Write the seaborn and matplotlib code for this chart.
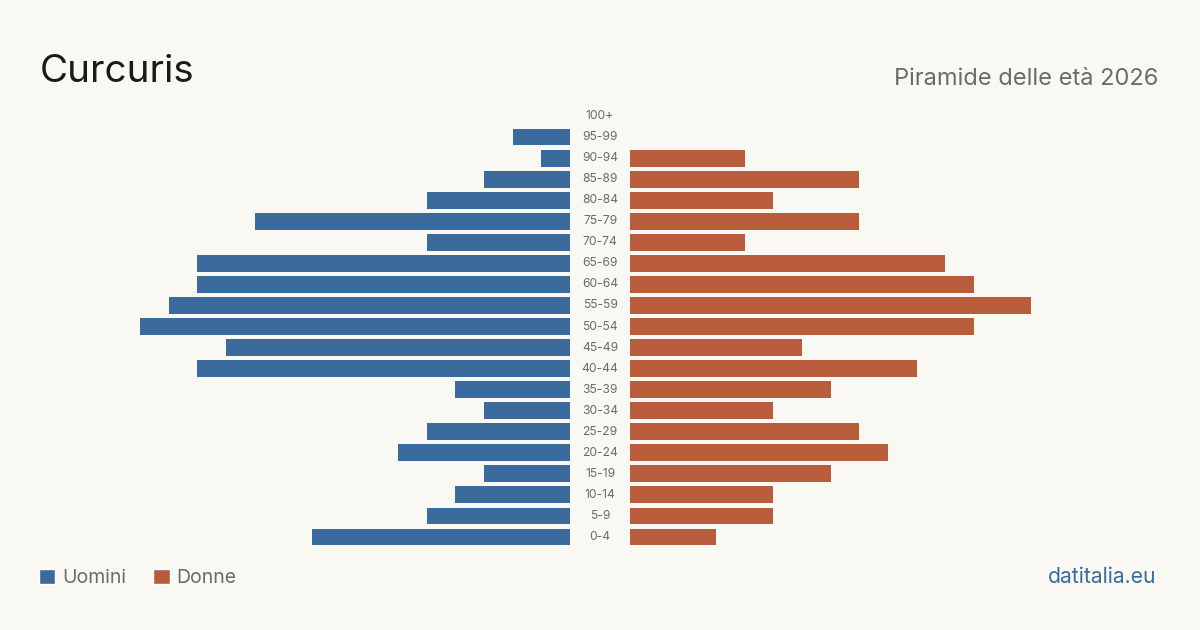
import matplotlib
matplotlib.use("Agg")
import matplotlib.pyplot as plt
import matplotlib.transforms as mtrans
from matplotlib.patches import Patch
import seaborn as sns
import pandas as pd

age_groups = ["100+", "95-99", "90-94", "85-89", "80-84", "75-79", "70-74", "65-69",
              "60-64", "55-59", "50-54", "45-49", "40-44", "35-39", "30-34", "25-29",
              "20-24", "15-19", "10-14", "5-9", "0-4"]
men = [0, 2, 1, 3, 5, 11, 5, 13, 13, 14, 15, 12, 13, 4, 3, 5, 6, 3, 4, 5, 9]
women = [0, 0, 4, 8, 5, 8, 4, 11, 12, 14, 12, 6, 10, 7, 5, 8, 9, 7, 5, 5, 3]

BG = "#f9f8f3"
BLUE = "#3a6b9c"
ORANGE = "#b95c3c"
GRAY = "#6b6b6b"

sns.set_theme(style="white")
plt.rcParams["font.family"] = ["Inter", "DejaVu Sans"]

df = pd.DataFrame({"age": age_groups, "men": men, "women": women})

fig = plt.figure(figsize=(12, 6.3), dpi=100, facecolor=BG)
top_px = 116 - 10.5
bot_px = 537 + 10.5
bottom = (630 - bot_px) / 630
height = (bot_px - top_px) / 630
ax_l = fig.add_axes([140 / 1200, bottom, 430 / 1200, height])
ax_r = fig.add_axes([630 / 1200, bottom, 430 / 1200, height])

sns.barplot(data=df, y="age", x="men", order=age_groups, orient="h", color=BLUE,
            saturation=1, width=0.8, linewidth=0, ax=ax_l)
sns.barplot(data=df, y="age", x="women", order=age_groups, orient="h", color=ORANGE,
            saturation=1, width=0.8, linewidth=0, ax=ax_r)

for ax in (ax_l, ax_r):
    ax.set_facecolor("none")
    ax.set_ylim(len(age_groups) - 0.5, -0.5)
    ax.set_xlabel("")
    ax.set_ylabel("")
    ax.set_xticks([])
    ax.set_yticks([])
    for s in ax.spines.values():
        s.set_visible(False)
ax_l.set_xlim(15, 0)
ax_r.set_xlim(0, 15)

trans = mtrans.blended_transform_factory(fig.transFigure, ax_r.transData)
for i, lab in enumerate(age_groups):
    ax_r.text(600 / 1200, i, lab, transform=trans, ha="center", va="center",
              fontsize=8.7, color=GRAY, clip_on=False)

fig.text(40 / 1200, 1 - 82 / 630, "Curcuris", fontsize=27.8, color="#1a1a1a",
         ha="left", va="baseline")
fig.text(1158 / 1200, 1 - 85 / 630, "Piramide delle età 2026", fontsize=17, color=GRAY,
         ha="right", va="baseline")
fig.text(1156 / 1200, 1 - 583 / 630, "datitalia.eu", fontsize=15.2, color=BLUE,
         ha="right", va="baseline")

handles = [Patch(facecolor=BLUE, label="Uomini"), Patch(facecolor=ORANGE, label="Donne")]
leg = fig.legend(handles=handles, loc="center left", bbox_to_anchor=(21 / 1200, 1 - 578 / 630),
                 ncol=2, frameon=False, fontsize=14, handlelength=0.85, handleheight=0.85,
                 handletextpad=0.35, columnspacing=1.4)
for t in leg.get_texts():
    t.set_color(GRAY)

fig.savefig("out.png", dpi=100, facecolor=BG)
